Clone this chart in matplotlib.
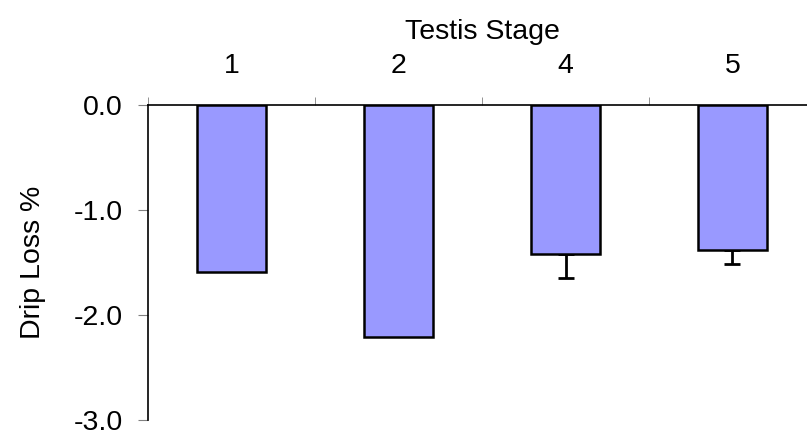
import matplotlib
matplotlib.use("Agg")
import matplotlib.pyplot as plt
import numpy as np

plt.rcParams["font.family"] = ["Liberation Sans", "DejaVu Sans"]

stages = ["1", "2", "4", "5"]
drip_loss = [-1.59, -2.21, -1.42, -1.38]
err_low = [0.0, 0.0, 0.23, 0.13]

BAR, EDGE = "#9999ff", "#000000"
FS = 20.5

fig = plt.figure(figsize=(8.07, 4.32), dpi=100)
ax = fig.add_axes([148 / 807, 1 - 420 / 432, 668 / 807, 315 / 432])

x = np.arange(len(stages))
ax.bar(x, drip_loss, width=0.41, color=BAR, edgecolor=EDGE, linewidth=1.8, zorder=2)
has_err = [i for i, e in enumerate(err_low) if e > 0]
ax.errorbar([x[i] for i in has_err], [drip_loss[i] for i in has_err],
            yerr=[[err_low[i] for i in has_err], [0] * len(has_err)],
            fmt="none", ecolor="black", elinewidth=2, capsize=6, capthick=2, zorder=1)

ax.set_xlim(-0.5, len(stages) - 0.5)
ax.set_ylim(-3, 0)
ax.set_yticks([0, -1, -2, -3])
ax.set_yticklabels(["0.0", "-1.0", "-2.0", "-3.0"], fontsize=FS)
ax.tick_params(axis="y", direction="out", length=7, color="#808080", pad=11)

ax.xaxis.tick_top()
ax.xaxis.set_label_position("top")
ax.set_xticks(x)
ax.set_xticklabels(stages, fontsize=FS)
ax.set_xticks(np.arange(len(stages) + 1) - 0.5, minor=True)
ax.tick_params(axis="x", which="major", length=0, pad=19)
ax.tick_params(axis="x", which="minor", direction="out", length=6, color="#808080")
ax.set_xlabel("Testis Stage", fontsize=FS, labelpad=10)
ax.set_ylabel("Drip Loss %", fontsize=FS, labelpad=20)

ax.spines["bottom"].set_visible(False)
ax.spines["right"].set_visible(False)
ax.spines["top"].set_linewidth(1.2)
ax.spines["left"].set_linewidth(1.2)

fig.savefig("out.png", dpi=100)
